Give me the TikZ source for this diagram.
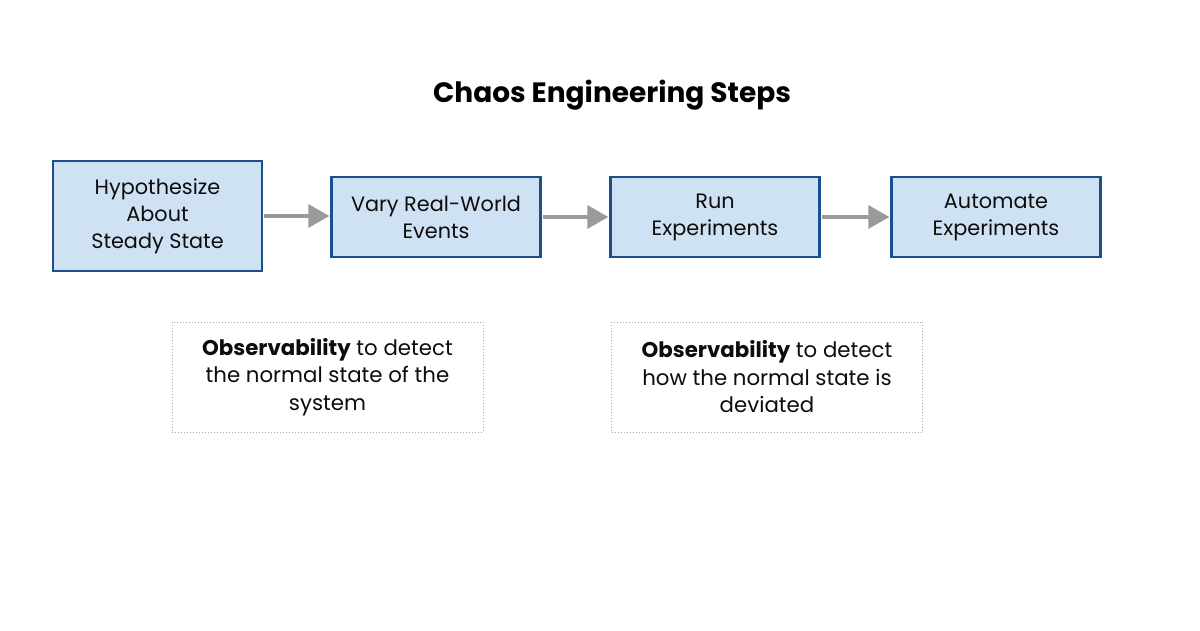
\documentclass[tikz,border=0pt]{standalone}
\usepackage{fontspec}
\setmainfont{Poppins}
\usetikzlibrary{arrows.meta}
\definecolor{boxfill}{HTML}{CFE2F3}
\definecolor{boxline}{HTML}{1C4F8C}
\definecolor{arrowgray}{HTML}{9A9A9A}
\definecolor{dotgray}{HTML}{A8A8A8}
\tikzset{
  x=1pt,y=-1pt,
  stepbox/.style={draw=boxline, line width=2.2pt, fill=boxfill, align=center,
    minimum width=209pt, inner sep=0pt, font=\fontsize{20.8}{27}\selectfont, text=black!95},
  notebox/.style={draw=dotgray, dotted, line width=1pt, align=center,
    minimum width=311pt, minimum height=110pt, inner sep=0pt,
    font=\fontsize{21.3}{27.5}\selectfont, text=black!95},
  flow/.style={draw=arrowgray, line width=3.2pt, -{Triangle[length=21pt,width=23pt]}, shorten <=1pt, shorten >=1pt},
}
\begin{document}
\begin{tikzpicture}
\useasboundingbox (0,0) rectangle (1200,630);
\fill[white] (0,0) rectangle (1200,630);
\node[font=\bfseries\fontsize{28}{32}\selectfont] (title) at (612,95) {Chaos Engineering Steps};
\node[stepbox, minimum height=110pt] (s1) at (157.5,216) {Hypothesize\\About\\Steady State};
\node[stepbox, minimum height=80pt] (s2) at (436,217) {Vary Real-World\\Events};
\node[stepbox, minimum height=80pt] (s3) at (715,217) {Run\\Experiments};
\node[stepbox, minimum height=80pt] (s4) at (996,217) {Automate\\Experiments};
\draw[flow] (s1.east |- 0,216) -- (s2.west |- 0,216);
\draw[flow] (s2) -- (s3);
\draw[flow] (s3) -- (s4);
\node[notebox] (n1) at (327.5,377) {\textbf{Observability} to detect\\the normal state of the\\system};
\node[notebox] (n2) at (767,377) {\textbf{Observability} to detect\\how the normal state is\\deviated};
\end{tikzpicture}
\end{document}
